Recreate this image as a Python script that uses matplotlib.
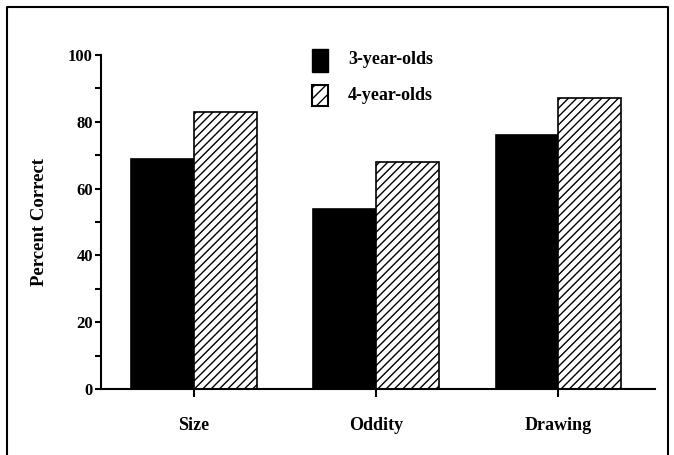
import numpy as np
import matplotlib.pyplot as plt
from matplotlib.lines import Line2D
from matplotlib.patches import Rectangle

plt.rcParams['font.family'] = ['Liberation Serif', 'DejaVu Serif']
plt.rcParams['font.weight'] = 'bold'
plt.rcParams['hatch.linewidth'] = 1.0

categories = ['Size', 'Oddity', 'Drawing']
three_year = [69, 54, 76]
four_year = [83, 68, 87]
series_names = ['3-year-olds', '4-year-olds']

fig = plt.figure(figsize=(6.74, 4.55), dpi=100)
ax = fig.add_axes([0.150, 0.145, 0.822, 0.734])

x = np.arange(len(categories))
w = 0.345
ax.bar(x - w / 2, three_year, w, color='black', edgecolor='black', linewidth=1.2)
ax.bar(x + w / 2, four_year, w, color='white', edgecolor='black', hatch='////', linewidth=1.2)

ax.set_xlim(-0.507, 2.53)
ax.set_ylim(0, 100)
ax.spines['top'].set_visible(False)
ax.spines['right'].set_visible(False)
ax.spines['left'].set_linewidth(1.5)
ax.spines['bottom'].set_linewidth(1.5)

ax.set_yticks([0, 20, 40, 60, 80, 100])
ax.set_yticks(np.arange(10, 100, 20), minor=True)
ax.tick_params(axis='y', which='both', length=4, width=1.5, labelsize=12, pad=2)
ax.set_xticks(x)
ax.set_xticklabels(categories, fontsize=13, fontweight='bold')
ax.tick_params(axis='x', length=6, width=1.5, pad=14)
for lbl in ax.get_yticklabels():
    lbl.set_fontweight('bold')

ax.set_ylabel('Percent Correct', fontsize=13.5, fontweight='bold', labelpad=14)

# legend drawn by hand to match the original layout
fig.patches.append(Rectangle((312 / 674, 1 - 72 / 455), 16 / 674, 23 / 455,
                             transform=fig.transFigure, facecolor='black',
                             edgecolor='black'))
fig.patches.append(Rectangle((312 / 674, 1 - 106 / 455), 16 / 674, 21 / 455,
                             transform=fig.transFigure, facecolor='white',
                             edgecolor='black', hatch='///', linewidth=1.5))
fig.text(348 / 674, 1 - 60 / 455, series_names[0], fontsize=13, fontweight='bold',
         va='center')
fig.text(348 / 674, 1 - 95 / 455, series_names[1], fontsize=13, fontweight='bold',
         va='center')

# outer frame (bottom edge falls outside the image)
fx = [7 / 674, 7 / 674, 668 / 674, 668 / 674]
fy = [-0.01, 1 - 7 / 455, 1 - 7 / 455, -0.01]
fig.lines.append(Line2D(fx, fy, transform=fig.transFigure, color='black', linewidth=1.5))

fig.savefig('out.png', dpi=100)
